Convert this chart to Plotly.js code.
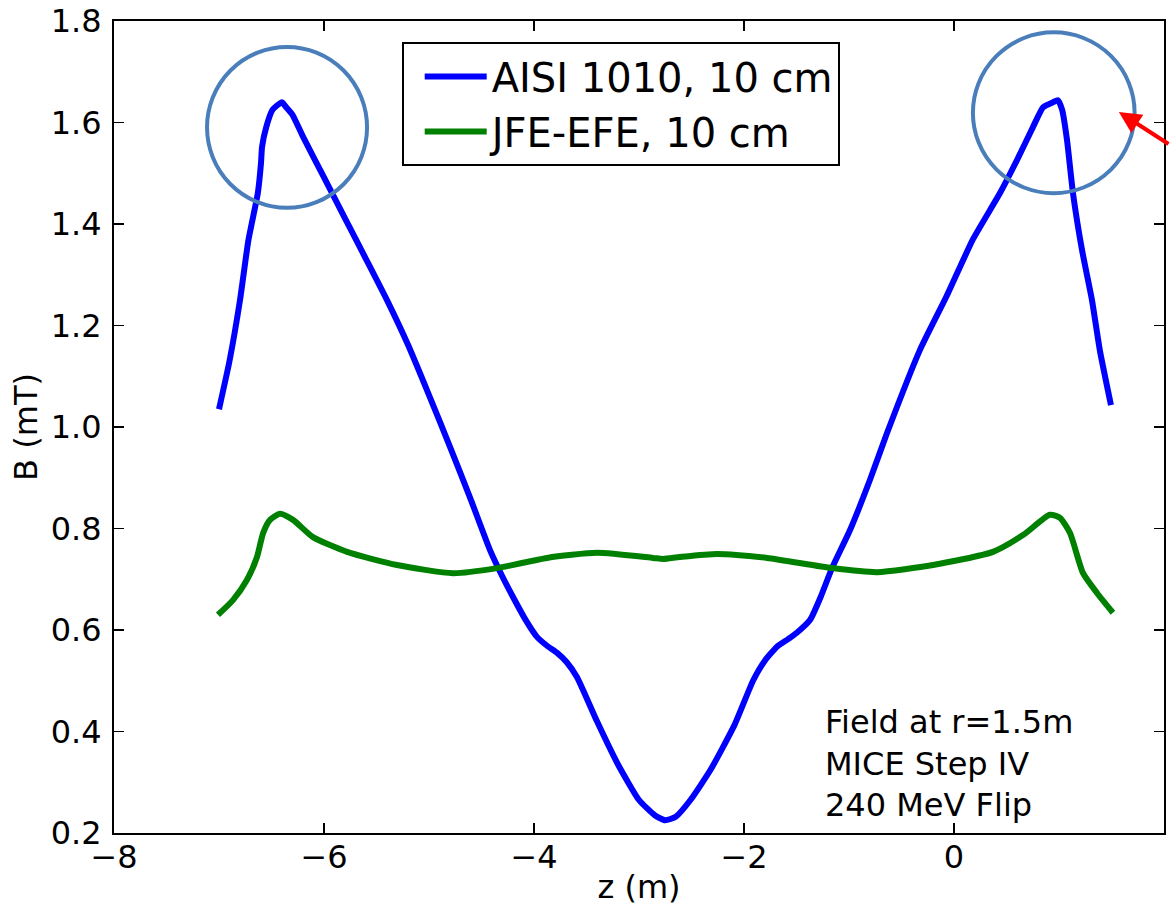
<!DOCTYPE html>
<html>
<head>
<meta charset="utf-8">
<script src="https://cdn.plot.ly/plotly-3.0.1.min.js"></script>
<style>html,body{margin:0;padding:0;background:#fff;}#chart{width:1170px;height:910px;}</style>
</head>
<body>
<div id="chart"></div>
<script>
// AISI 1010, 10 cm
const zAisi = [-7.0, -6.9, -6.8, -6.72, -6.63, -6.6, -6.59, -6.55, -6.49, -6.4, -6.36, -6.3, -6.2, -6.0, -5.8, -5.6, -5.4, -5.2, -5.0, -4.8, -4.6, -4.42, -4.3, -4.2, -4.08, -3.97, -3.87, -3.78, -3.69, -3.59, -3.4, -3.2, -3.0, -2.85, -2.75, -2.65, -2.51, -2.32, -2.09, -1.914, -1.8, -1.686, -1.58, -1.5, -1.37, -1.27, -1.162, -0.99, -0.8, -0.638, -0.324, -0.07, 0.181, 0.438, 0.6, 0.752, 0.848, 0.943, 0.99, 1.03, 1.076, 1.133, 1.219, 1.314, 1.39, 1.495];
const bAisi = [1.035, 1.13, 1.25, 1.368, 1.461, 1.52, 1.552, 1.591, 1.625, 1.64, 1.63, 1.615, 1.572, 1.492, 1.411, 1.331, 1.25, 1.162, 1.063, 0.961, 0.856, 0.758, 0.705, 0.665, 0.62, 0.586, 0.568, 0.555, 0.537, 0.507, 0.42, 0.335, 0.265, 0.235, 0.225, 0.232, 0.265, 0.324, 0.413, 0.50, 0.54, 0.567, 0.582, 0.594, 0.62, 0.665, 0.722, 0.797, 0.896, 0.988, 1.152, 1.258, 1.37, 1.461, 1.526, 1.591, 1.63, 1.64, 1.644, 1.625, 1.566, 1.461, 1.349, 1.25, 1.15, 1.043];

// JFE-EFE, 10 cm
const zJfe = [-7.01, -6.867, -6.733, -6.638, -6.58, -6.514, -6.419, -6.295, -6.105, -5.78, -5.305, -4.77, -4.352, -3.876, -3.4, -2.867, -2.77, -2.61, -2.257, -1.781, -1.162, -0.733, -0.2, 0.371, 0.657, 0.914, 1.01, 1.105, 1.229, 1.362, 1.514];
const bJfe = [0.630, 0.659, 0.699, 0.744, 0.791, 0.817, 0.829, 0.817, 0.783, 0.754, 0.728, 0.712, 0.722, 0.742, 0.752, 0.742, 0.740, 0.744, 0.750, 0.742, 0.722, 0.714, 0.728, 0.754, 0.787, 0.827, 0.821, 0.791, 0.712, 0.673, 0.634];

const seriesNames = ["AISI 1010, 10 cm", "JFE-EFE, 10 cm"];
const yTicks = [0.2, 0.4, 0.6, 0.8, 1.0, 1.2, 1.4, 1.6, 1.8];
const xTicks = [-8, -6, -4, -2, 0, 2];
const noteLines = ["Field at r=1.5m", "MICE Step IV", "240 MeV Flip"];

const FONT = "DejaVu Sans, Verdana, sans-serif";

const traces = [
  {x: zAisi, y: bAisi, name: seriesNames[0], type: "scatter", mode: "lines",
   line: {color: "#0000ff", width: 6, shape: "spline", smoothing: 0.5}},
  {x: zJfe, y: bJfe, name: seriesNames[1], type: "scatter", mode: "lines",
   line: {color: "#008000", width: 6, shape: "spline", smoothing: 0.6}}
];

const ringColor = "rgb(74,126,187)";
const layout = {
  width: 1170, height: 910,
  paper_bgcolor: "#fff", plot_bgcolor: "#fff",
  margin: {l: 114, r: 6, t: 21, b: 77},
  font: {family: FONT, size: 32, color: "#000"},
  showlegend: true,
  legend: {
    x: 0.274, y: 0.974, xanchor: "left", yanchor: "top",
    bgcolor: "#fff", bordercolor: "#000", borderwidth: 2,
    font: {family: FONT, size: 40, color: "#000"},
    itemwidth: 62, tracegroupgap: 0, indentation: 16
  },
  xaxis: {
    range: [-8, 2], tickvals: xTicks, ticktext: xTicks.map(v => v < 0 ? "\u2212" + Math.abs(v) : String(v)),
    ticks: "inside", ticklen: 10, tickwidth: 1.5, tickcolor: "#000",
    showline: true, linecolor: "#000", linewidth: 2, mirror: "allticks",
    showgrid: false, zeroline: false,
    tickfont: {family: FONT, size: 32, color: "#000"},
    ticklabelstandoff: -5,
    title: {text: "z (m)", font: {family: FONT, size: 32, color: "#000"}, standoff: 0}
  },
  yaxis: {
    range: [0.2, 1.8], tickvals: yTicks, ticktext: yTicks.map(v => v.toFixed(1)),
    ticks: "inside", ticklen: 10, tickwidth: 1.5, tickcolor: "#000",
    showline: true, linecolor: "#000", linewidth: 2, mirror: "allticks",
    showgrid: false, zeroline: false,
    tickfont: {family: FONT, size: 32, color: "#000"},
    ticklabelstandoff: 4,
    title: {text: "B (mT)", font: {family: FONT, size: 32, color: "#000"}, standoff: 4}
  },
  shapes: [
    {type: "circle", xref: "paper", yref: "paper", x0: 0.0886, x1: 0.241, y0: 0.770, y1: 0.968,
     line: {color: ringColor, width: 4}, layer: "above"},
    {type: "circle", xref: "paper", yref: "paper", x0: 0.818, x1: 0.972, y0: 0.788, y1: 0.986,
     line: {color: ringColor, width: 4}, layer: "above"}
  ],
  annotations: [
    {xref: "paper", yref: "paper", x: 0.6752, y: 0.086, xanchor: "left", yanchor: "middle",
     align: "left", showarrow: false, text: noteLines.join("<br>"),
     font: {family: FONT, size: 32, color: "#000"}},
    {xref: "paper", yref: "paper", x: 0.957, y: 0.888, text: "", showarrow: true,
     ax: 60, ay: 33, arrowhead: 2, arrowsize: 1.1, arrowwidth: 4, arrowcolor: "#ff0000"}
  ]
};

Plotly.newPlot("chart", traces, layout, {displayModeBar: false, staticPlot: true});
</script>
</body>
</html>
